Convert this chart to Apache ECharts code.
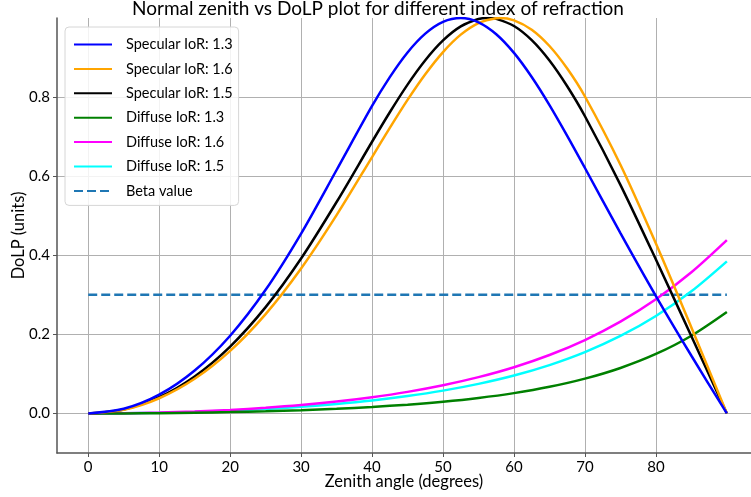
<!DOCTYPE html>
<html><head><meta charset="utf-8">
<script src="https://cdn.jsdelivr.net/npm/echarts@6/dist/echarts.min.js"></script>
<style>html,body{margin:0;padding:0;background:#fff}#c{width:751px;height:497px}</style>
</head><body><div id="c"></div>
<script>
const specAngles = [0,5,10,15,20,25,30,35,40,42.5,45,47.5,50,52.5,55,57.5,60,62.5,65,67.5,70,75,80,85,90];
const specular13 = [0,0.0118,0.0475,0.1086,0.1966,0.3126,0.4548,0.6156,0.7775,0.8505,0.9129,0.9605,0.9903,1.0000,0.9892,0.9590,0.9118,0.8508,0.7798,0.7020,0.6207,0.4561,0.2970,0.1459,0];
const specular16 = [0,0.0095,0.0385,0.0877,0.1583,0.2513,0.3666,0.5015,0.6484,0.7221,0.7929,0.8578,0.9139,0.9579,0.9872,0.9996,0.9941,0.9704,0.9292,0.8722,0.8015,0.6289,0.4297,0.2173,0];
const specular15 = [0,0.0102,0.0411,0.0937,0.1692,0.2688,0.3919,0.5347,0.6871,0.7617,0.8315,0.8931,0.9432,0.9787,0.9975,0.9979,0.9798,0.9440,0.8925,0.8274,0.7516,0.5781,0.3892,0.1951,0];
const peak16 = [58.0, 1.0];
const peak15 = [56.3, 1.0];
const diffAngles = [0,5,10,15,20,25,30,35,40,45,50,55,60,65,70,75,80,85,90];
const diffuse13 = [0,0.0002,0.0008,0.0019,0.0034,0.0055,0.0083,0.0119,0.0165,0.0223,0.0297,0.0392,0.0514,0.0673,0.0880,0.1150,0.1504,0.1966,0.2565];
const diffuse16 = [0,0.0005,0.0022,0.0049,0.0090,0.0144,0.0213,0.0301,0.0411,0.0546,0.0713,0.0918,0.1169,0.1478,0.1857,0.2321,0.2886,0.3569,0.4382];
const diffuse15 = [0,0.0004,0.0017,0.0039,0.0071,0.0114,0.0170,0.0241,0.0329,0.0440,0.0577,0.0748,0.0959,0.1223,0.1551,0.1959,0.2464,0.3088,0.3846];
const betaX = [0, 90];
const betaY = [0.3, 0.3];
const xTicks = [0,10,20,30,40,50,60,70,80];
const yTicks = [0,0.2,0.4,0.6,0.8];
const names = ['Specular IoR: 1.3','Specular IoR: 1.6','Specular IoR: 1.5','Diffuse IoR: 1.3','Diffuse IoR: 1.6','Diffuse IoR: 1.5','Beta value'];
const colors = ['#0000ff','#ffa500','#000000','#008000','#ff00ff','#00ffff','#1f77b4'];

function pairs(xs, ys, extra) {
  const d = xs.map((x, i) => [x, ys[i]]);
  if (extra) { d.push(extra); d.sort((a, b) => a[0] - b[0]); }
  return d;
}
const seriesData = [
  pairs(specAngles, specular13),
  pairs(specAngles, specular16, peak16),
  pairs(specAngles, specular15, peak15),
  pairs(diffAngles, diffuse13),
  pairs(diffAngles, diffuse16),
  pairs(diffAngles, diffuse15),
  pairs(betaX, betaY)
];
const FONT = 'Lato';
const chart = echarts.init(document.getElementById('c'), null, {renderer: 'canvas'});
chart.setOption({
  animation: false,
  backgroundColor: '#fff',
  title: {
    text: 'Normal zenith vs DoLP plot for different index of refraction',
    left: 378, textAlign: 'center', top: -1, padding: 0,
    textStyle: {fontFamily: FONT, fontSize: 19, fontWeight: 'normal', color: '#000'}
  },
  legend: {
    orient: 'vertical', left: 65, top: 27,
    padding: [10, 6, 7, 8],
    itemWidth: 38, itemHeight: 14, itemGap: 9.4,
    itemStyle: {opacity: 0},
    backgroundColor: 'rgba(255,255,255,0.85)', borderColor: '#d6d6d6', borderWidth: 1, borderRadius: 4,
    textStyle: {fontFamily: FONT, fontSize: 14.5, lineHeight: 14, color: '#000', padding: [0, 0, 0, 9]},
    data: names.map((n) => ({name: n}))
  },
  grid: {left: 57, right: 0, top: 18, bottom: 44, containLabel: false, outerBoundsMode: 'none'},
  xAxis: {
    type: 'value', min: -4.4, max: 93.4,
    name: 'Zenith angle (degrees)', nameLocation: 'middle', nameGap: 29, nameMoveOverlap: false,
    nameTextStyle: {fontFamily: FONT, fontSize: 16.5, color: '#000', verticalAlign: 'middle'},
    axisLine: {show: true, onZero: false, lineStyle: {color: '#555', width: 1.5}},
    axisTick: {show: true, length: 4, customValues: xTicks, lineStyle: {color: '#555'}},
    axisLabel: {customValues: xTicks, fontFamily: FONT, fontSize: 15, color: '#000', margin: 7},
    splitLine: {show: true, customValues: xTicks, lineStyle: {color: '#b0b0b0', width: 1}}
  },
  yAxis: {
    type: 'value', min: -0.1, max: 1.0,
    name: 'DoLP (units)', nameLocation: 'middle', nameGap: 38, nameMoveOverlap: false,
    nameTextStyle: {fontFamily: FONT, fontSize: 16.5, color: '#000', verticalAlign: 'middle'},
    axisLine: {show: true, onZero: false, lineStyle: {color: '#555', width: 1.5}},
    axisTick: {show: true, length: 4, customValues: yTicks, lineStyle: {color: '#555'}},
    axisLabel: {customValues: yTicks, fontFamily: FONT, fontSize: 15, color: '#000', margin: 7,
      formatter: (v) => v.toFixed(1)},
    splitLine: {show: true, customValues: yTicks, lineStyle: {color: '#b0b0b0', width: 1}}
  },
  series: seriesData.map((d, i) => ({
    name: names[i], type: 'line', data: d, symbol: 'none', smooth: i < 6 ? 0.3 : false,
    color: colors[i],
    lineStyle: {color: colors[i], width: 2.5, type: i === 6 ? [9, 4] : 'solid'},
    z: 10 - i
  }))
});
</script></body></html>
